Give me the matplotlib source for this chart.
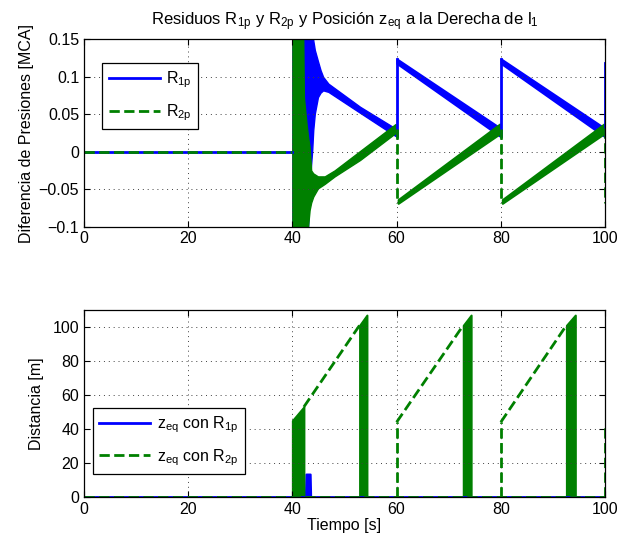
import matplotlib
matplotlib.use('Agg')
import matplotlib.pyplot as plt
from matplotlib.lines import Line2D

plt.rcParams['font.family'] = ['Liberation Sans', 'DejaVu Sans']
plt.rcParams['mathtext.default'] = 'regular'
plt.rcParams['font.size'] = 11

# ---- datos ----
# tramo sin fuga (ambos residuos en cero)
t_cero = [0, 40]
v_cero = [0, 0]

# R1p: transitorio tras la fuga (envolvente max / min)
r1_tr_t = [40.0, 43.0, 43.5, 43.8, 44.0, 44.3, 44.9, 45.4, 45.9, 46.9, 53.0, 59.8]
r1_tr_hi = [0.20, 0.20, 0.20, 0.17, 0.149, 0.136, 0.121, 0.109, 0.100, 0.091, 0.060, 0.031]
r1_tr_lo = [-0.10, -0.10, -0.025, 0.002, 0.029, 0.051, 0.073, 0.079, 0.082, 0.080, 0.052, 0.021]

# R2p: transitorio tras la fuga
r2_tr_t = [40.0, 42.0, 42.2, 42.7, 43.0, 43.3, 43.6, 44.0, 44.9, 46.2, 48.1, 53.0, 59.8]
r2_tr_hi = [0.20, 0.20, 0.073, 0.038, 0.020, 0.006, -0.025, -0.029, -0.033, -0.033, -0.025, 0.001, 0.037]
r2_tr_lo = [-0.20, -0.20, -0.20, -0.20, -0.10, -0.078, -0.068, -0.060, -0.049, -0.043, -0.033, -0.011, 0.025]

# ciclos periodicos (inicio, fin) -> bandas
r1_ciclo_t = [[60.05, 79.8], [80.05, 99.8]]
r1_ciclo_hi = [[0.124, 0.032], [0.124, 0.032]]
r1_ciclo_lo = [[0.118, 0.021], [0.118, 0.021]]
r1_salto_t = [60, 80, 100]
r1_salto_v = [[0.021, 0.124], [0.021, 0.124], [0.021, 0.118]]

r2_ciclo_t = [[60.3, 79.8], [80.3, 99.8]]
r2_ciclo_hi = [[-0.064, 0.037], [-0.064, 0.037]]
r2_ciclo_lo = [[-0.069, 0.024], [-0.069, 0.024]]
r2_salto_t = [60, 80, 100]
r2_salto_v = [[0.030, -0.068], [0.030, -0.068], [0.032, -0.068]]

# posicion z_eq
t_z = [0, 100]
z_cero = [0, 0]
z1_pico_t = [42.5, 42.6, 43.4, 43.5]
z1_pico_v = [0, 13.5, 13.5, 0]
z2_banda_t = [[40.0, 42.2], [52.9, 54.3], [72.8, 74.3], [92.6, 94.3]]
z2_banda_hi = [[45, 53], [101, 107], [101, 107], [101, 107]]
z2_rampa_t = [[42.2, 52.9], [60, 72.8], [80, 92.6]]
z2_rampa_v = [[53, 101], [44, 101], [44, 101]]
z2_salto_t = [60, 80, 100]
z2_salto_v = [44, 44, 43]

azul = '#0000ff'
verde = '#008000'
lw = 2


def estilo(ax):
    ax.grid(True, linestyle=(0, (1, 4)), color='0.25', linewidth=0.7)
    ax.tick_params(direction='in', length=4, top=True, right=True, labelsize=11.5)
    for s in ax.spines.values():
        s.set_linewidth(0.9)
    ax.set_xlim(0, 100)
    ax.set_xticks([0, 20, 40, 60, 80, 100])


def leyenda(ax, etiquetas, ancla, loc):
    h = [Line2D([], [], color=azul, lw=lw), Line2D([], [], color=verde, lw=lw, ls='--')]
    leg = ax.legend(h, etiquetas, loc=loc, bbox_to_anchor=ancla, fancybox=False,
                    edgecolor='black', framealpha=1, handlelength=3.2, handletextpad=0.4,
                    borderaxespad=0, fontsize=11.5, labelspacing=0.75)
    leg.get_frame().set_linewidth(0.9)


fig = plt.figure(figsize=(6.2, 5.41), dpi=100)
ax1 = fig.add_axes([0.1355, 0.5813, 0.8403, 0.3457])
ax2 = fig.add_axes([0.1355, 0.0813, 0.8403, 0.3457])

# ---- grafico superior ----
ax1.plot(t_cero, v_cero, color=azul, lw=lw)
ax1.fill_between(r1_tr_t, r1_tr_lo, r1_tr_hi, color=azul, lw=1)
for t, hi, lo in zip(r1_ciclo_t, r1_ciclo_hi, r1_ciclo_lo):
    ax1.fill_between(t, lo, hi, color=azul, lw=1.5)
for t, v in zip(r1_salto_t, r1_salto_v):
    ax1.plot([t, t], v, color=azul, lw=lw)

ax1.plot(t_cero, v_cero, color=verde, lw=lw, ls='--')
ax1.fill_between(r2_tr_t, r2_tr_lo, r2_tr_hi, color=verde, lw=1)
for t, hi, lo in zip(r2_ciclo_t, r2_ciclo_hi, r2_ciclo_lo):
    ax1.fill_between(t, lo, hi, color=verde, lw=1.5)
for t, v in zip(r2_salto_t, r2_salto_v):
    ax1.plot([t, t], v, color=verde, lw=lw, ls='--')

ax1.set_ylim(-0.1, 0.15)
ax1.set_yticks([-0.1, -0.05, 0, 0.05, 0.1, 0.15])
ax1.set_yticklabels(['\u22120.1', '\u22120.05', '0', '0.05', '0.1', '0.15'])
estilo(ax1)
ax1.set_ylabel('Diferencia de Presiones [MCA]', fontsize=11.5, labelpad=3)
ax1.set_title('Residuos R$_{1p}$ y R$_{2p}$ y Posición z$_{eq}$ a la Derecha de l$_1$',
              fontsize=12, pad=10)
leyenda(ax1, ['R$_{1p}$', 'R$_{2p}$'], (0.035, 0.872), 'upper left')

# ---- grafico inferior ----
ax2.plot(t_z, z_cero, color=azul, lw=lw)
ax2.fill_between(z1_pico_t, 0, z1_pico_v, color=azul, lw=1.5)
ax2.plot(t_z, z_cero, color=verde, lw=lw, ls='--')
for t, hi in zip(z2_banda_t, z2_banda_hi):
    ax2.fill_between(t, 0, hi, color=verde, lw=1.5)
for t, v in zip(z2_rampa_t, z2_rampa_v):
    ax2.plot(t, v, color=verde, lw=lw, ls='--')
for t, v in zip(z2_salto_t, z2_salto_v):
    ax2.plot([t, t], [0, v], color=verde, lw=lw, ls='--')

ax2.set_ylim(0, 110)
ax2.set_yticks([0, 20, 40, 60, 80, 100])
estilo(ax2)
ax2.set_ylabel('Distancia [m]', fontsize=11.5, labelpad=6)
ax2.set_xlabel('Tiempo [s]', fontsize=11.5, labelpad=1)
leyenda(ax2, ['z$_{eq}$ con R$_{1p}$', 'z$_{eq}$ con R$_{2p}$'], (0.017, 0.123), 'lower left')

fig.savefig('out.png', dpi=100)
